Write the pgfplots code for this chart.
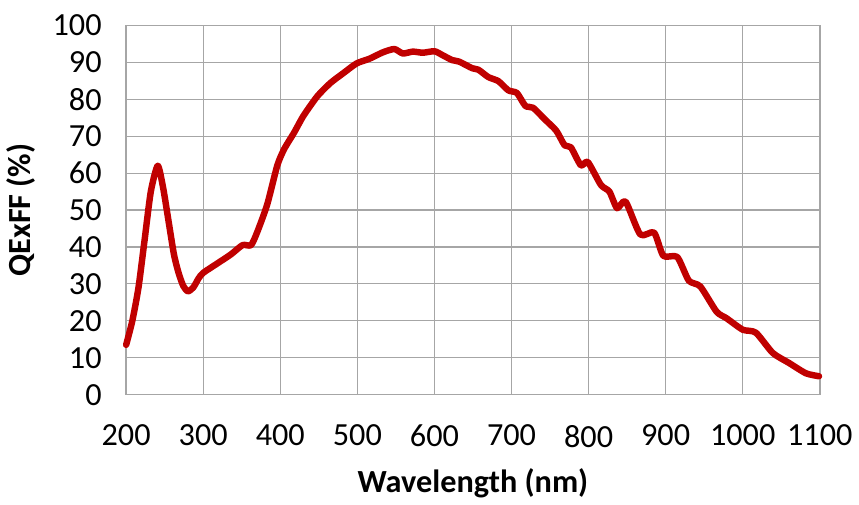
\documentclass[border=0pt]{standalone}
\usepackage{fontspec}
\setmainfont{Carlito}
\usepackage{pgfplots}
\pgfplotsset{compat=1.18}
\definecolor{qered}{HTML}{C00000}
\definecolor{gridgray}{HTML}{A6A6A6}

\begin{document}
\begin{tikzpicture}
  \begin{axis}[
    width=355pt, height=189pt,
    scale only axis,
    xmin=200, xmax=1100,
    ymin=0, ymax=100,
    xtick={200,300,...,1100},
    ytick={0,10,...,100},
    major tick length=0pt,
    grid=major,
    grid style={gridgray, line width=0.6pt},
    axis line style={gridgray, line width=0.8pt},
    tick label style={font=\fontsize{16.5}{19}\selectfont},
    /pgf/number format/assume math mode=true,
    /pgf/number format/1000 sep={},
    xticklabel style={yshift=-12pt},
    yticklabel style={xshift=-9pt},
    xlabel={\textbf{Wavelength (nm)}},
    ylabel={\textbf{QExFF (\%)}},
    label style={font=\fontsize{16.5}{19}\selectfont},
    xlabel style={yshift=-4pt},
    ylabel style={yshift=2pt},
    clip=false,
    after end axis/.code={\path (rel axis cs:0,1) ++(0,13pt);},
  ]
\addplot[qered, line width=3.3pt, smooth, tension=0.4, line join=round, line cap=round]
    coordinates {
    (200,13.5) (208,20) (216,29) (224,42) (232,55) (241,62) (248,56) (255,47)
    (262,38) (268,33) (274,29.5) (280,28) (287,29) (294,31.5) (300,33) (318,35.5)
    (336,38) (351,40.5) (362,40.5) (370,44) (383,51.5) (396,62) (405,66.5) (418,71)
    (430,75.5) (448,80.8) (465,84.4) (482,87.1) (499,89.7) (516,91) (533,92.7)
    (548,93.6) (559,92.4) (572,92.9) (585,92.6) (600,93) (610,92) (623,90.6)
    (632,90.2) (649,88.4) (657,88) (670,86) (683,84.9) (696,82.4) (707,81.7)
    (718,78.2) (728,77.7) (743,74.6) (758,71.5) (769,67.5) (777,67) (790,62.1)
    (799,63) (816,56.8) (827,55) (837,50.5) (848,52.3) (867,43.4) (885,43.9)
    (897,37.6) (915,37.3) (930,30.9) (945,29.3) (966,22.5) (979,20.7) (1000,17.6)
    (1017,16.8) (1039,11.3) (1060,8.6) (1082,5.8) (1099,5)
    };
  \end{axis}
\end{tikzpicture}
\end{document}
